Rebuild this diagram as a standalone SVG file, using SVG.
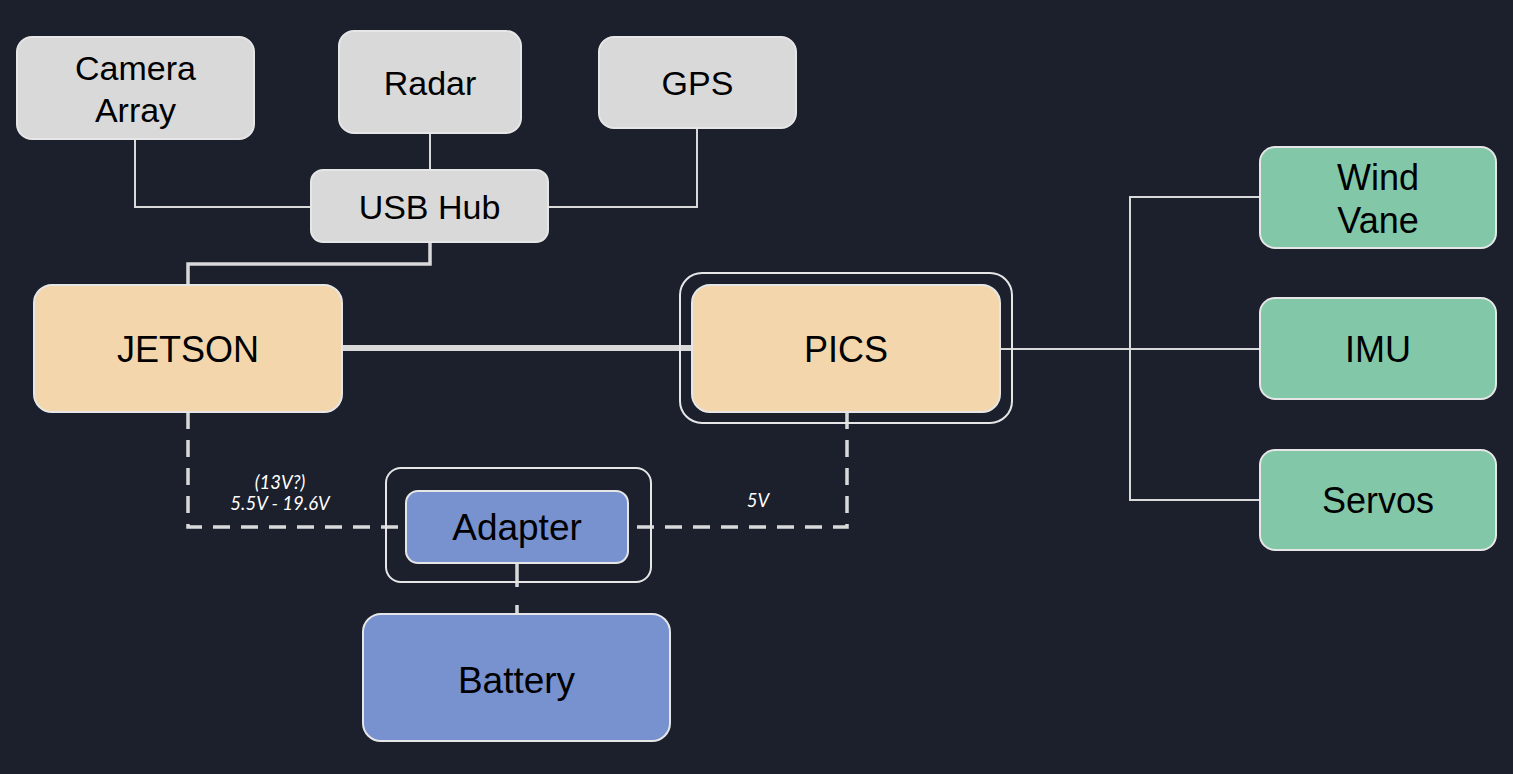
<svg xmlns="http://www.w3.org/2000/svg" width="1513" height="774" viewBox="0 0 1513 774">
<style>
.n{stroke:#e6e6e6;stroke-width:2}
.g{fill:#d9d9d9}
.o{fill:#f4d6ac}
.t{fill:#82c8a8}
.b{fill:#7891cf}
.frame{fill:none;stroke:#e6e6e6;stroke-width:2}
.lbl{font-family:"Liberation Sans",Arial,sans-serif;font-size:34px;fill:#000;text-anchor:middle}
.big{font-size:36px}
.thin{fill:none;stroke:#d9d9d9;stroke-width:2}
.mid{fill:none;stroke:#d9d9d9;stroke-width:3.5}
.thick{fill:none;stroke:#d9d9d9;stroke-width:6}
.dash{fill:none;stroke:#d9d9d9;stroke-width:3.5;stroke-dasharray:17 11}
.note{font-family:Lato,"Liberation Sans",sans-serif;font-style:italic;font-size:18.5px;fill:#ffffff;text-anchor:middle}
</style>
<rect width="1513" height="774" fill="#1b202c"/>
<g id="connectors">
<polyline class="thin" points="135,139 135,207 311,207"/>
<line class="thin" x1="430" y1="133" x2="430" y2="170"/>
<polyline class="thin" points="697,128 697,207 548,207"/>
<polyline class="mid" points="430,242 430,264 188,264 188,285"/>
<line class="thick" x1="342" y1="348" x2="692" y2="348"/>
<line class="thin" x1="1000" y1="349" x2="1260" y2="349"/>
<polyline class="thin" points="1260,197 1130,197 1130,500 1260,500"/>
<polyline class="dash" points="188,412 188,527 406,527"/>
<polyline class="dash" points="847,412 847,527 628,527"/>
<line class="dash" x1="517" y1="563" x2="517" y2="614" style="stroke-dasharray:24 18"/>
<text class="note" x="280" y="489">(13V?)</text>
<text class="note" x="280" y="510">5.5V - 19.6V</text>
<text class="note" x="758" y="507">5V</text>
</g>
<g id="camera"><rect class="n g" x="17" y="37" width="237" height="102" rx="15"/><text class="lbl" x="135.5" y="80">Camera</text><text class="lbl" x="135.5" y="122">Array</text></g>
<g id="radar"><rect class="n g" x="339" y="31" width="182" height="102" rx="15"/><text class="lbl" x="430" y="95">Radar</text></g>
<g id="gps"><rect class="n g" x="599" y="37" width="197" height="91" rx="15"/><text class="lbl" x="697.5" y="95">GPS</text></g>
<g id="usbhub"><rect class="n g" x="311" y="170" width="237" height="72" rx="12"/><text class="lbl" x="429.5" y="219">USB Hub</text></g>
<g id="jetson"><rect class="n o" x="34" y="285" width="308" height="127" rx="18"/><text class="lbl big" x="188" y="362">JETSON</text></g>
<g id="pics"><rect class="frame" x="680" y="273" width="332" height="150" rx="22"/><rect class="n o" x="692" y="285" width="308" height="127" rx="18"/><text class="lbl big" x="846" y="362">PICS</text></g>
<g id="windvane"><rect class="n t" x="1260" y="147" width="236" height="101" rx="15"/><text class="lbl big" x="1378" y="190">Wind</text><text class="lbl big" x="1378" y="233">Vane</text></g>
<g id="imu"><rect class="n t" x="1260" y="298" width="236" height="101" rx="15"/><text class="lbl big" x="1378" y="362">IMU</text></g>
<g id="servos"><rect class="n t" x="1260" y="450" width="236" height="100" rx="15"/><text class="lbl big" x="1378" y="513">Servos</text></g>
<g id="adapter"><rect class="frame" x="386" y="468" width="265" height="114" rx="15"/><rect class="n b" x="406" y="491" width="222" height="72" rx="12"/><text class="lbl" x="517" y="540" style="font-size:37px">Adapter</text></g>
<g id="battery"><rect class="n b" x="363" y="614" width="307" height="127" rx="18"/><text class="lbl" x="516.5" y="693" style="font-size:37px">Battery</text></g>
</svg>
